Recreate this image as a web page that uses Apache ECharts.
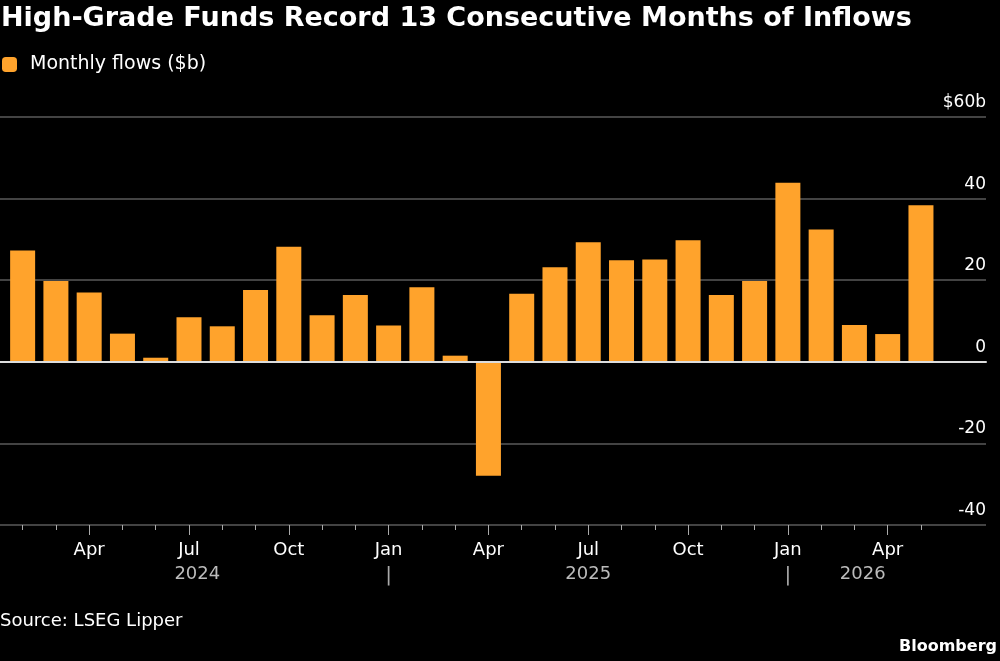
<!DOCTYPE html>
<html>
<head>
<meta charset="utf-8">
<script src="https://cdn.jsdelivr.net/npm/echarts@6/dist/echarts.min.js"></script>
<style>
  html, body { margin: 0; padding: 0; background: #000; }
  #chart { width: 1000px; height: 661px; }
</style>
</head>
<body>
<div id="chart"></div>
<script>
// monthly data, Feb 2024 .. May 2026
const months = [
  '2024-02', '2024-03', '2024-04', '2024-05', '2024-06', '2024-07', '2024-08',
  '2024-09', '2024-10', '2024-11', '2024-12',
  '2025-01', '2025-02', '2025-03', '2025-04', '2025-05', '2025-06', '2025-07',
  '2025-08', '2025-09', '2025-10', '2025-11', '2025-12',
  '2026-01', '2026-02', '2026-03', '2026-04', '2026-05'
];
const flows = [
  27.3, 19.8, 17.0, 6.9, 1.0, 10.9, 8.7, 17.6, 28.2, 11.4, 16.4,
  8.9, 18.3, 1.5, -27.9, 16.7, 23.2, 29.3, 24.9, 25.1, 29.8, 16.4, 19.8,
  43.9, 32.4, 9.0, 6.8, 38.4
];
const monthNames = ['Jan', 'Feb', 'Mar', 'Apr', 'May', 'Jun', 'Jul', 'Aug', 'Sep', 'Oct', 'Nov', 'Dec'];
const quarterMonths = ['Jan', 'Apr', 'Jul', 'Oct'];
const yMin = -40, yMax = 60, yStep = 20;

const FONT = 'DejaVu Sans';
const ORANGE = '#ffa32c';
const GRID_TOP = 117, GRID_BOTTOM = 136;

const monthOf = (m) => monthNames[Number(m.slice(5)) - 1];
const isQuarter = (i) => quarterMonths.indexOf(monthOf(months[i])) >= 0;

const chart = echarts.init(document.getElementById('chart'));

chart.setOption({
  backgroundColor: '#000',
  animation: false,
  title: [
    {
      text: 'High-Grade Funds Record 13 Consecutive Months of Inflows',
      left: -4, top: 0,
      textStyle: { color: '#fff', fontFamily: FONT, fontSize: 27, fontWeight: 'bold' }
    },
    {
      text: 'Source: LSEG Lipper',
      left: -5, top: 607,
      textStyle: { color: '#fff', fontFamily: FONT, fontSize: 18, fontWeight: 'normal' }
    },
    {
      text: 'Bloomberg',
      right: -2, top: 634,
      textStyle: { color: '#fff', fontFamily: FONT, fontSize: 16, fontWeight: 'bold' }
    }
  ],
  legend: {
    left: -3, top: 50,
    icon: 'roundRect',
    itemWidth: 15, itemHeight: 15,
    textStyle: { color: '#fff', fontFamily: FONT, fontSize: 19, padding: [0, 0, 0, 8] },
    data: ['Monthly flows ($b)']
  },
  grid: [
    // bars
    { left: 6, right: 62.4, top: GRID_TOP, bottom: GRID_BOTTOM },
    // gridlines + labels, wider than the bars
    { left: 0, right: 14, top: GRID_TOP, bottom: GRID_BOTTOM }
  ],
  xAxis: [
    {
      type: 'category', gridIndex: 0, data: months,
      axisLine: { show: false, onZero: false },
      axisTick: { show: true, alignWithLabel: true, interval: 0, length: 5, lineStyle: { color: '#aaa' } },
      axisLabel: { show: false }
    },
    {
      type: 'category', gridIndex: 0, data: months, position: 'bottom',
      axisLine: { show: false, onZero: false },
      axisTick: {
        show: true, alignWithLabel: true, length: 10,
        interval: (i) => isQuarter(i),
        lineStyle: { color: '#aaa' }
      },
      axisLabel: {
        interval: (i) => isQuarter(i),
        margin: 13,
        color: '#fff', fontFamily: FONT, fontSize: 18, lineHeight: 25,
        formatter: (v) => monthOf(v) === 'Jan' ? 'Jan\n{sep||}' : monthOf(v),
        rich: { sep: { color: '#aaa', fontFamily: FONT, fontSize: 20, lineHeight: 25 } }
      }
    },
    {
      type: 'value', gridIndex: 1, min: 0, max: 1, z: 5,
      axisLine: { show: true, onZero: true, lineStyle: { color: '#ddd', width: 2 } },
      axisTick: { show: false }, axisLabel: { show: false }, splitLine: { show: false }
    }
  ],
  yAxis: [
    {
      type: 'value', gridIndex: 0, min: yMin, max: yMax, interval: yStep,
      show: false
    },
    {
      type: 'value', gridIndex: 1, min: yMin, max: yMax, interval: yStep,
      position: 'right',
      axisLine: { show: false }, axisTick: { show: false },
      splitLine: { show: true, lineStyle: { color: '#5a5a5a', width: 1.5 } },
      axisLabel: {
        inside: true, margin: 0, verticalAlign: 'bottom', padding: [0, 0, 6, 0],
        color: '#fff', fontFamily: FONT, fontSize: 17,
        formatter: (v) => v === yMax ? '$' + v + 'b' : String(v)
      }
    }
  ],
  series: [
    {
      name: 'Monthly flows ($b)',
      type: 'bar', xAxisIndex: 0, yAxisIndex: 0,
      data: flows,
      barWidth: 25,
      itemStyle: { color: ORANGE }
    }
  ]
});

// year labels under the month labels, centred on each year's span
const px = (i) => chart.convertToPixel({ xAxisIndex: 0 }, months[i]);
const half = (px(1) - px(0)) / 2;
const years = [...new Set(months.map((m) => m.slice(0, 4)))];
const yearText = years.map((y) => {
  const first = months.findIndex((m) => m.slice(0, 4) === y);
  let last = first;
  while (last + 1 < months.length && months[last + 1].slice(0, 4) === y) last++;
  const start = monthOf(months[first]) === 'Jan' ? px(first) : px(first) - half;
  const end = last + 1 < months.length ? px(last + 1) : px(last) + half;
  return {
    type: 'text',
    x: (start + end) / 2, y: 574,
    style: {
      text: y, fill: '#bbb', font: '18px "DejaVu Sans"',
      align: 'center', verticalAlign: 'middle'
    }
  };
});
chart.setOption({ graphic: yearText });
</script>
</body>
</html>
